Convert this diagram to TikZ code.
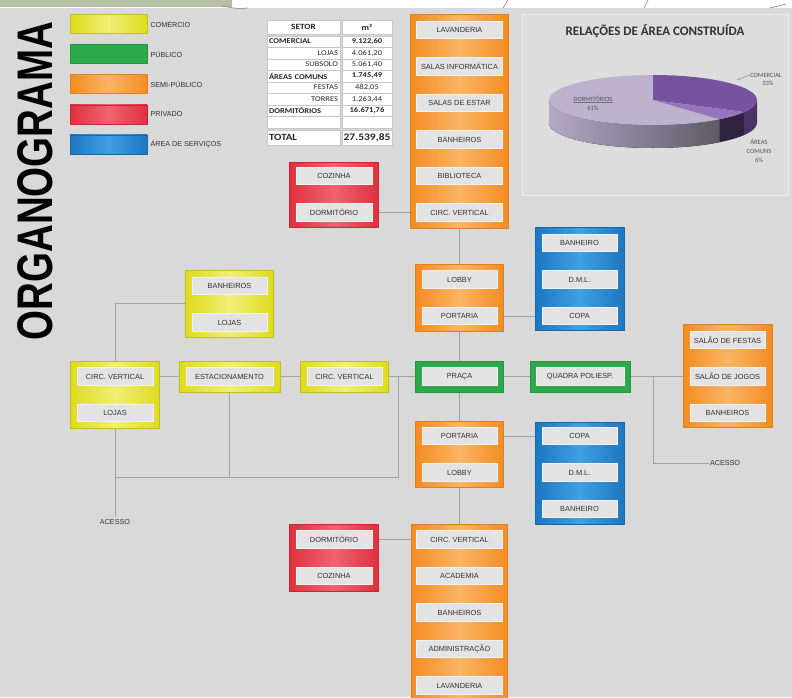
\documentclass[tikz,border=0pt]{standalone}
\usepackage{fontspec}
\usepackage{graphicx}
\setmainfont{Liberation Sans}
\newfontfamily\tabfont[FakeStretch=1.15]{Carlito}
\newfontfamily\chartfont{Carlito}
\usetikzlibrary{positioning,backgrounds}

\definecolor{bg}{HTML}{D9D9D9}
\definecolor{topgreen}{HTML}{B5C0A2}
\definecolor{inner}{HTML}{E3E3E3}
\definecolor{innerb}{HTML}{F2F2F2}
\definecolor{txt}{HTML}{333333}
\definecolor{linkc}{HTML}{A2A2A2}
\definecolor{orD}{HTML}{F38C22}
\definecolor{orL}{HTML}{FBB565}
\definecolor{orB}{HTML}{E47E18}
\definecolor{yeD}{HTML}{DEDB1E}
\definecolor{yeL}{HTML}{F1EF76}
\definecolor{yeB}{HTML}{C2BE1A}
\definecolor{grD}{HTML}{2DA84A}
\definecolor{grB}{HTML}{1E9A3C}
\definecolor{reD}{HTML}{E0303F}
\definecolor{reL}{HTML}{EE6470}
\definecolor{reB}{HTML}{C82634}
\definecolor{blD}{HTML}{1C76C0}
\definecolor{blL}{HTML}{3FA0E2}
\definecolor{blB}{HTML}{1867A8}
\definecolor{panel}{HTML}{DDDDDD}
\definecolor{pieD}{HTML}{BDB3CE}
\definecolor{pieC}{HTML}{7652A0}
\definecolor{pieA}{HTML}{9475BA}
\definecolor{pieDl}{HTML}{B3A9C5}
\definecolor{pieDd}{HTML}{5E5A66}
\definecolor{pieAs}{HTML}{2F2340}
\definecolor{pieCs}{HTML}{4C3366}

\tikzstyle{area} = [rectangle, inner sep=0pt, line width=0.6pt]
\tikzstyle{comercio} = [area, draw=yeB, left color=yeD, right color=yeD, middle color=yeL]
\tikzstyle{publico} = [area, draw=grB, fill=grD]
\tikzstyle{semipub} = [area, draw=orB, left color=orD, right color=orD, middle color=orL]
\tikzstyle{privado} = [area, draw=reB, left color=reD, right color=reD, middle color=reL]
\tikzstyle{servico} = [area, draw=blB, left color=blD, right color=blD, middle color=blL]
\tikzstyle{inbox} = [rectangle, minimum width=75pt, minimum height=17.5pt, inner sep=0pt, fill=inner, draw=innerb, line width=0.6pt, text=txt, font=\fontsize{7.4}{8}\selectfont]
\tikzstyle{inwide} = [inbox, minimum width=86pt]
\tikzstyle{link} = [draw=linkc, line width=0.8pt]
\tikzstyle{legtxt} = [font=\fontsize{7.2}{8}\selectfont, text=txt, inner sep=0pt]
\tikzstyle{cell} = [rectangle, fill=white, draw=gray!45, line width=0.5pt, minimum height=11.5pt, inner sep=0pt, text=black!85, font=\tabfont\fontsize{7.4}{8}\selectfont]
\tikzstyle{cellL} = [cell, inner xsep=2pt, text width=69pt, align=left, font=\tabfont\bfseries\fontsize{7.4}{8}\selectfont]
\tikzstyle{cellR} = [cell, inner xsep=2pt, text width=69pt, align=right]
\tikzstyle{cellV} = [cell, minimum width=50pt]
\tikzstyle{pielbl} = [font=\chartfont\fontsize{6.5}{7}\selectfont, text=txt!85, inner sep=0.5pt]
\tikzstyle{leader} = [draw=txt!70, line width=0.4pt]

\begin{document}
\begin{tikzpicture}[x=1pt, y=-1pt, node distance=36.5pt]
  \useasboundingbox (0,0) rectangle (792,697);
  \clip (0,0) rectangle (792,697);
  % strip at the top
  \fill[topgreen] (0,0) rectangle (232,7);
  \fill[white] (232,0) rectangle (792,8);
  \draw[gray, line width=0.6pt] (222,6) .. controls (232,8) and (238,9) .. (248,8);
  \draw[gray, line width=0.6pt] (503,8) -- (508,0);
  \draw[gray, line width=0.6pt] (644,8) -- (648,0);
  \draw[gray, line width=0.6pt] (770,8) -- (786,4);

  % title
  \node (titulo)[rotate=90, font=\bfseries\fontsize{50}{50}\selectfont] at (35,181) {\scalebox{0.77}[1]{ORGANOGRAMA}};

  % legend
  \node (lgcom)[comercio, minimum width=77pt, minimum height=19pt] at (108.5,24) {};
  \node (lgpub)[publico, minimum width=77pt, minimum height=19pt, below=10.5pt of lgcom] {};
  \node (lgsemi)[semipub, minimum width=77pt, minimum height=19pt, below=10.5pt of lgpub] {};
  \node (lgpriv)[privado, minimum width=77pt, minimum height=19pt, below=10.5pt of lgsemi] {};
  \node (lgserv)[servico, minimum width=77pt, minimum height=19pt, below=10.5pt of lgpriv] {};
  \node[legtxt, right=3pt of lgcom] {COMÉRCIO};
  \node[legtxt, right=3pt of lgpub] {PÚBLICO};
  \node[legtxt, right=3pt of lgsemi] {SEMI-PÚBLICO};
  \node[legtxt, right=3pt of lgpriv] {PRIVADO};
  \node[legtxt, right=3pt of lgserv] {ÁREA DE SERVIÇOS};

  % table
  \node (setor)[cell, minimum width=73pt, minimum height=14pt, font=\tabfont\bfseries\fontsize{8}{9}\selectfont] at (303.5,27) {SETOR};
  \node (m2)[cellV, minimum height=14pt, font=\tabfont\bfseries\fontsize{8}{9}\selectfont] at (367,27) {m²};
  \node (comercial)[cellL] at (303.5,41.5) {COMERCIAL};
  \node (vcomercial)[cellV, font=\tabfont\bfseries\fontsize{7.4}{8}\selectfont] at (367,41.5) {9.122,60};
  \node (lojas)[cellR] at (303.5,53) {LOJAS};
  \node (vlojas)[cellV] at (367,53) {4.061,20};
  \node (subsolo)[cellR] at (303.5,64.5) {SUBSOLO};
  \node (vsubsolo)[cellV] at (367,64.5) {5.061,40};
  \node (comuns)[cellL] at (303.5,76) {ÁREAS COMUNS};
  \node (vcomuns)[cellV, font=\tabfont\bfseries\fontsize{7.4}{8}\selectfont] at (367,76) {1.745,49};
  \node (festas)[cellR] at (303.5,87.5) {FESTAS};
  \node (vfestas)[cellV] at (367,87.5) {482,05};
  \node (torres)[cellR] at (303.5,99) {TORRES};
  \node (vtorres)[cellV] at (367,99) {1.263,44};
  \node (dormit)[cellL] at (303.5,110.5) {DORMITÓRIOS};
  \node (vdormit)[cellV, font=\tabfont\bfseries\fontsize{7.4}{8}\selectfont] at (367,110.5) {16.671,76};
  \node (vazio)[cellL] at (303.5,122) {};
  \node (vvazio)[cellV] at (367,122) {};
  \node (total)[cellL, minimum height=15pt, font=\tabfont\bfseries\fontsize{9.5}{10}\selectfont] at (303.5,137.5) {TOTAL};
  \node (vtotal)[cellV, minimum height=15pt, font=\tabfont\bfseries\fontsize{10}{11}\selectfont] at (367,137.5) {27.539,85};

  % chart
  \draw[fill=panel, draw=white!85!gray, line width=0.8pt] (522,14) rectangle (788,195);
  \node (charttitle)[font=\chartfont\bfseries\fontsize{13}{14}\selectfont, text=txt] at (655,31) {RELAÇÕES DE ÁREA CONSTRUÍDA};
  \begin{scope}[shift={(653,100)}, x=1pt, y=1pt]
    \fill[left color=pieDl, right color=pieDd] (-180:104 and 25) arc[start angle=-180, end angle=-50.4, x radius=104, y radius=25] -- ++(0,-23) arc[start angle=-50.4, end angle=-180, x radius=104, y radius=25] -- cycle;
    \fill[pieAs] (-50.4:104 and 25) arc[start angle=-50.4, end angle=-28.8, x radius=104, y radius=25] -- ++(0,-23) arc[start angle=-28.8, end angle=-50.4, x radius=104, y radius=25] -- cycle;
    \fill[pieCs] (-28.8:104 and 25) arc[start angle=-28.8, end angle=0, x radius=104, y radius=25] -- ++(0,-23) arc[start angle=0, end angle=-28.8, x radius=104, y radius=25] -- cycle;
    \fill[pieD] (0,0) -- (-50.4:104 and 25) arc[start angle=-50.4, end angle=-270, x radius=104, y radius=25] -- cycle;
    \fill[pieC] (0,0) -- (90:104 and 25) arc[start angle=90, end angle=-28.8, x radius=104, y radius=25] -- cycle;
    \fill[pieA] (0,0) -- (-28.8:104 and 25) arc[start angle=-28.8, end angle=-50.4, x radius=104, y radius=25] -- cycle;
  \end{scope}
  \node (lbcom)[pielbl] at (766,75) {COMERCIAL};
  \node (lbcomp)[pielbl] at (768,83) {33\%};
  \node (lbdorm)[pielbl] at (593,99) {DORMITÓRIOS};
  \node (lbdormp)[pielbl] at (593,108) {61\%};
  \node (lbar)[pielbl] at (759,142) {ÁREAS};
  \node (lbar2)[pielbl] at (759,151) {COMUNS};
  \node (lbarp)[pielbl] at (759,160) {6\%};
  \draw[leader] (737,80) -- (lbcom.west);
  \draw[leader] (lbdorm.south west) -- (lbdorm.south east);

  % upper column
  \node (topcol)[semipub, minimum width=98pt, minimum height=214pt] at (459.5,121) {};
  \node (lav1)[inwide] at (459.5,30) {LAVANDERIA};
  \node (salinf)[inwide, below of=lav1] {SALAS INFORMÁTICA};
  \node (salest)[inwide, below of=salinf] {SALAS DE ESTAR};
  \node (banh1)[inwide, below of=salest] {BANHEIROS};
  \node (bib)[inwide, below of=banh1] {BIBLIOTECA};
  \node (circv1)[inwide, below of=bib] {CIRC. VERTICAL};

  \node (redtop)[privado, minimum width=89pt, minimum height=65pt] at (334,194.5) {};
  \node (cozinha1)[inbox, minimum width=76pt] at (334,176) {COZINHA};
  \node (dorm1)[inbox, minimum width=76pt, below of=cozinha1] {DORMITÓRIO};

  \node (lobbyA)[semipub, minimum width=88pt, minimum height=67pt] at (459.5,297.5) {};
  \node (lobby1)[inbox] at (459.5,279.5) {LOBBY};
  \node (port1)[inbox, below of=lobby1] {PORTARIA};

  \node (bluetop)[servico, minimum width=89pt, minimum height=103pt] at (579.5,278.5) {};
  \node (banheiro1)[inbox] at (579.5,243) {BANHEIRO};
  \node (dml1)[inbox, below of=banheiro1] {D.M.L.};
  \node (copa1)[inbox, below of=dml1] {COPA};

  % middle row
  \node (praca)[publico, minimum width=88pt, minimum height=31pt] at (459.5,376.5) {};
  \node (pracat)[inbox] at (459.5,376.5) {PRAÇA};
  \node (quadra)[publico, minimum width=100pt, minimum height=31pt] at (580,376.5) {};
  \node (quadrat)[inbox, minimum width=88pt] at (580,376.5) {QUADRA POLIESP.};

  \node (salao)[semipub, minimum width=89pt, minimum height=103pt] at (727.5,376) {};
  \node (salfestas)[inbox] at (727.5,340) {SALÃO DE FESTAS};
  \node (saljogos)[inbox, below of=salfestas] {SALÃO DE JOGOS};
  \node (banh3)[inbox, below of=saljogos] {BANHEIROS};
  \node (acesso2)[legtxt, inner sep=1pt] at (725,463) {ACESSO};
  \coordinate (acj) at (653,376.5);

  \node (lojabox)[comercio, minimum width=88pt, minimum height=67pt] at (229.5,303.5) {};
  \node (banh4)[inbox] at (229.5,286) {BANHEIROS};
  \node (lojas1)[inbox, below of=banh4] {LOJAS};

  \node (circbox)[comercio, minimum width=89pt, minimum height=67pt] at (115,394.5) {};
  \node (circv3)[inbox, minimum width=76pt] at (115,376.5) {CIRC. VERTICAL};
  \node (lojas2)[inbox, minimum width=76pt, below of=circv3] {LOJAS};

  \node (estac)[comercio, minimum width=101pt, minimum height=31pt] at (229.5,376.5) {};
  \node (estact)[inbox, minimum width=87pt] at (229.5,376.5) {ESTACIONAMENTO};
  \node (circv4)[comercio, minimum width=88pt, minimum height=31pt] at (344.5,376.5) {};
  \node (circv4t)[inbox] at (344.5,376.5) {CIRC. VERTICAL};
  \node (acesso1)[legtxt, inner sep=2pt] at (115,522) {ACESSO};
  \coordinate (lpl) at (115,477);
  \coordinate (lpr) at (398,477);

  % lower part
  \node (lobbyB)[semipub, minimum width=88pt, minimum height=66pt] at (459.5,454) {};
  \node (port2)[inbox] at (459.5,436) {PORTARIA};
  \node (lobby2)[inbox, below of=port2] {LOBBY};

  \node (bluebot)[servico, minimum width=89pt, minimum height=102pt] at (579.5,473) {};
  \node (copa2)[inbox] at (579.5,436) {COPA};
  \node (dml2)[inbox, below of=copa2] {D.M.L.};
  \node (banheiro2)[inbox, below of=dml2] {BANHEIRO};

  \node (botcol)[semipub, minimum width=96pt, minimum height=181pt] at (459.5,614.5) {};
  \node (circv2)[inwide] at (459.5,539.5) {CIRC. VERTICAL};
  \node (academia)[inwide, below of=circv2] {ACADEMIA};
  \node (banh2)[inwide, below of=academia] {BANHEIROS};
  \node (admin)[inwide, below of=banh2] {ADMINISTRAÇÃO};
  \node (lav2)[inwide, below of=admin] {LAVANDERIA};

  \node (redbot)[privado, minimum width=89pt, minimum height=67pt] at (334,557.5) {};
  \node (dorm2)[inbox, minimum width=76pt] at (334,539.5) {DORMITÓRIO};
  \node (cozinha2)[inbox, minimum width=76pt, below of=dorm2] {COZINHA};

  % connectors
  \begin{scope}[on background layer]
    \fill[bg] (0,8) rectangle (792,697);
    \draw[link] (dorm1.east) -- (circv1.west);
    \draw[link] (topcol.south) -- (lobbyA.north);
    \draw[link] (port1.east) -- (copa1.west);
    \draw[link] (lobbyA.south) -- (praca.north);
    \draw[link] (praca.east) -- (quadra.west);
    \draw[link] (praca.south) -- (lobbyB.north);
    \draw[link] (port2.east) -- (copa2.west);
    \draw[link] (lobbyB.south) -- (botcol.north);
    \draw[link] (dorm2.east) -- (circv2.west);
    \draw[link] (quadra.east) -- (salao.west |- quadra.east);
    \draw[link] (acj) |- (acesso2.west);
    \draw[link] (circv4.east) -- (praca.west);
    \draw[link] (estac.east) -- (circv4.west);
    \draw[link] (circv3.east) -- (estac.west);
    \draw[link] (lojabox.west) -| (acesso1.north);
    \draw[link] (estac.south) -- (estac.south |- lpr);
    \draw[link] (lpl) -- (lpr) -- (lpr |- praca.west);
  \end{scope}
\end{tikzpicture}
\end{document}
